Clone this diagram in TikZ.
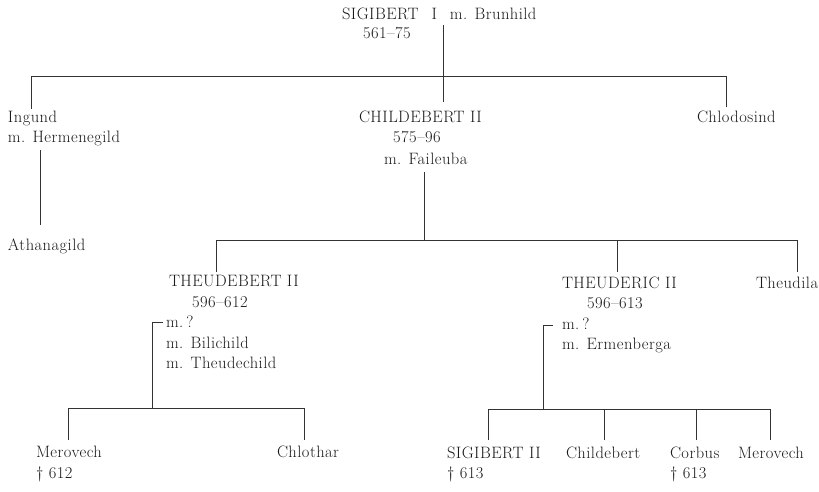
\documentclass[tikz,border=0pt]{standalone}
\usepackage{fontspec}
\setmainfont{Latin Modern Roman}[LetterSpace=2.8]
\begin{document}
\begin{tikzpicture}[x=1pt,y=-1pt,
  lbl/.style={anchor=base west,inner sep=0pt,outer sep=0pt,text=black!90,font=\fontsize{16.5}{20}\selectfont},
  ln/.style={draw=black!80,line width=0.8pt}]
\useasboundingbox (0,0) rectangle (819,491);
% generation 1
\node[lbl] (sig1) at (342,19) {SIGIBERT\hspace{13pt}I\hspace{13pt}m. Brunhild};
\node[lbl] (sig1d) at (363,38) {561--75};
% generation 2
\node[lbl] (ingund) at (8,122) {Ingund};
\node[lbl] (ingundm) at (8,142) {m. Hermenegild};
\node[lbl] (athan) at (8,250) {Athanagild};
\node[lbl] (child) at (359,122) {CHILDEBERT II};
\node[lbl] (childd) at (393,142) {575--96};
\node[lbl] (childm) at (384,164) {m. Faileuba};
\node[lbl] (chlod) at (697,122) {Chlodosind};
% generation 3
\node[lbl] (theb) at (169,286) {THEUDEBERT II};
\node[lbl] (thebd) at (192,307) {596--612};
\node[lbl] (thebm1) at (166,327) {m.\hspace{3pt}?};
\node[lbl] (thebm2) at (166,348) {m. Bilichild};
\node[lbl] (thebm3) at (166,368) {m. Theudechild};
\node[lbl] (ther) at (562,288) {THEUDERIC II};
\node[lbl] (therd) at (587,308) {596--613};
\node[lbl] (therm1) at (562,329) {m.\hspace{3pt}?};
\node[lbl] (therm2) at (562,349) {m. Ermenberga};
\node[lbl] (theud) at (756,288) {Theudila};
% generation 4
\node[lbl] (mero1) at (36,457) {Merovech};
\node[lbl] (mero1d) at (36,478) {\textdagger\ 612};
\node[lbl] (chloth) at (277,457) {Chlothar};
\node[lbl] (sig2) at (447,458) {SIGIBERT II};
\node[lbl] (sig2d) at (447,478) {\textdagger\ 613};
\node[lbl] (childb) at (566,458) {Childebert};
\node[lbl] (corb) at (670,458) {Corbus};
\node[lbl] (corbd) at (670,478) {\textdagger\ 613};
\node[lbl] (mero2) at (738,458) {Merovech};
% junction coordinates
\coordinate (t1) at (443,25);
\coordinate (b1) at (443,102);
\coordinate (bar1l) at (31,76);
\coordinate (bar1r) at (726,76);
\coordinate (ing1) at (40,150);
\coordinate (ing2) at (40,225);
\coordinate (c1) at (424,172);
\coordinate (c2) at (424,240);
\coordinate (bar2l) at (216,240);
\coordinate (bar2m) at (617,240);
\coordinate (bar2r) at (797,240);
\coordinate (k1) at (163,322);
\coordinate (k2) at (152,408);
\coordinate (bar3l) at (68,408);
\coordinate (bar3r) at (304,408);
\coordinate (r1) at (553,325);
\coordinate (r2) at (543,409);
\coordinate (bar4a) at (488,409);
\coordinate (bar4b) at (604,409);
\coordinate (bar4c) at (696,409);
\coordinate (bar4d) at (770,409);
% connectors
\draw[ln] (t1) -- (b1);
\draw[ln] (ingund.north -| bar1l) ++(0,-2) -- (bar1l) -- (bar1r) -- ++(0,31);
\draw[ln] (ing1) -- (ing2);
\draw[ln] (c1) -- (c2);
\draw[ln] (bar2l) ++(0,32) -- (bar2l) -- (bar2r) -- ++(0,32);
\draw[ln] (bar2m) -- ++(0,32);
\draw[ln] (k1) -| (k2);
\draw[ln] (bar3l) ++(0,32) -- (bar3l) -- (bar3r) -- ++(0,32);
\draw[ln] (r1) -| (r2);
\draw[ln] (bar4a) ++(0,31) -- (bar4a) -- (bar4d) -- ++(0,31);
\draw[ln] (bar4b) -- ++(0,31);
\draw[ln] (bar4c) -- ++(0,31);
\end{tikzpicture}
\end{document}
